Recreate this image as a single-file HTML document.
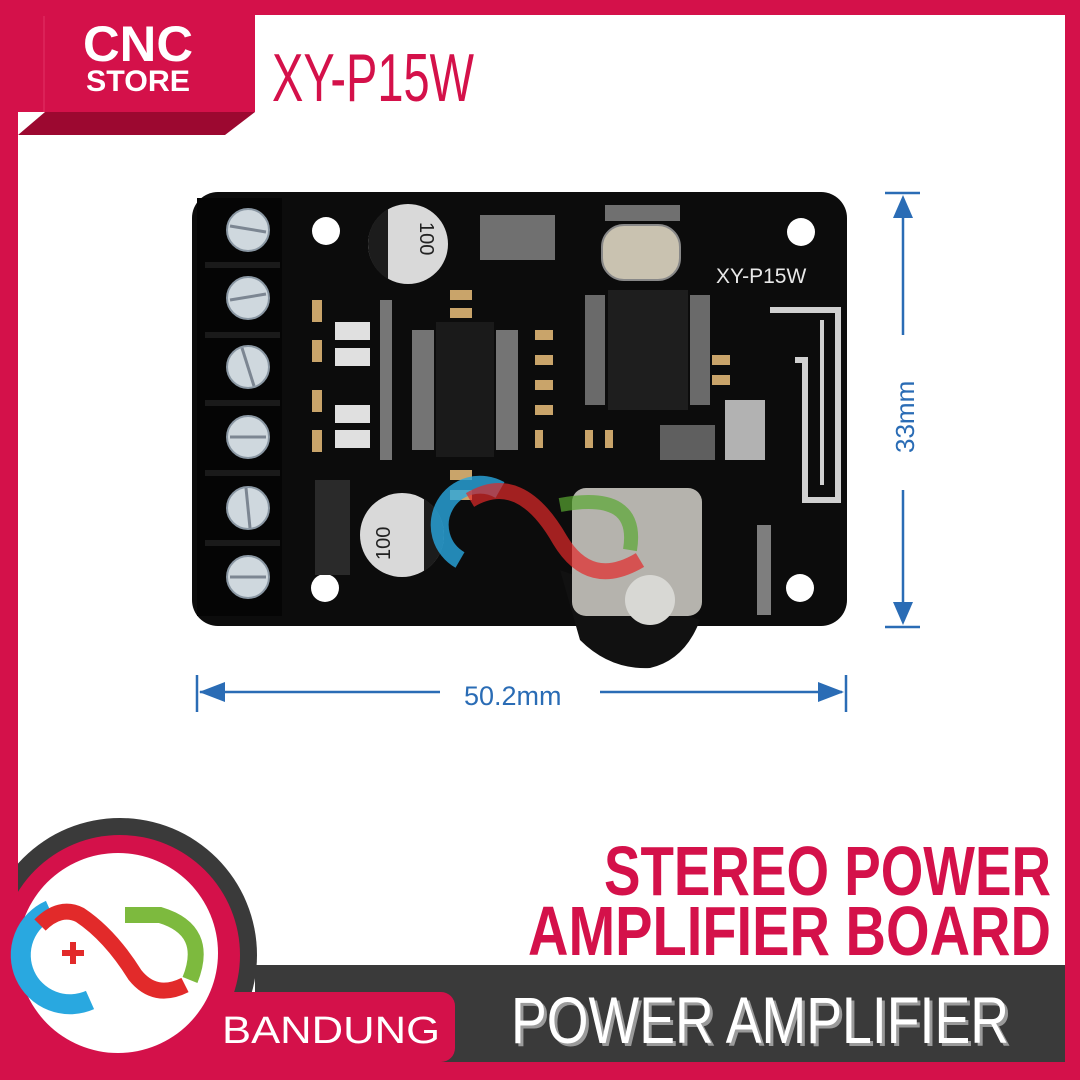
<!DOCTYPE html>
<html><head><meta charset="utf-8"><style>html,body{margin:0;padding:0;background:#fff}svg{display:block}</style></head>
<body>
<svg width="1080" height="1080" viewBox="0 0 1080 1080" xmlns="http://www.w3.org/2000/svg" font-family="Liberation Sans, sans-serif">
<rect x="0" y="0" width="1080" height="1080" fill="#d4114a"/>
<rect x="18" y="15" width="1047" height="1047" fill="#ffffff"/>
<rect x="0" y="0" width="255" height="112" fill="#d4114a"/>
<polygon points="45,112 255,112 225,135 18,135" fill="#9c0830"/>
<rect x="0" y="0" width="18" height="1080" fill="#d4114a"/>
<line x1="44" y1="16" x2="44" y2="112" stroke="#e23366" stroke-width="1"/>
<text x="83" y="61" font-size="50" font-weight="bold" fill="#fff" textLength="110" lengthAdjust="spacingAndGlyphs">CNC</text>
<text x="86" y="91" font-size="30" font-weight="bold" fill="#fff" textLength="104" lengthAdjust="spacingAndGlyphs">STORE</text>
<text x="272" y="101" font-size="68" fill="#d4114a" textLength="202" lengthAdjust="spacingAndGlyphs">XY-P15W</text>

<rect x="192" y="192" width="655" height="434" rx="26" fill="#0c0c0c"/>
<rect x="197" y="198" width="85" height="418" fill="#050505"/>
<g fill="#1a1a1a">
<rect x="205" y="262" width="75" height="6"/><rect x="205" y="332" width="75" height="6"/><rect x="205" y="400" width="75" height="6"/><rect x="205" y="470" width="75" height="6"/><rect x="205" y="540" width="75" height="6"/>
</g>
<g fill="#cfd8de" stroke="#8a97a3" stroke-width="2">
<circle cx="248" cy="230" r="21"/><circle cx="248" cy="298" r="21"/><circle cx="248" cy="367" r="21"/><circle cx="248" cy="437" r="21"/><circle cx="248" cy="508" r="21"/><circle cx="248" cy="577" r="21"/>
</g>
<g stroke="#7c8692" stroke-width="3">
<line x1="230" y1="226" x2="266" y2="232"/><line x1="230" y1="300" x2="266" y2="294"/><line x1="242" y1="348" x2="254" y2="386"/><line x1="230" y1="437" x2="266" y2="437"/><line x1="246" y1="488" x2="250" y2="528"/><line x1="230" y1="577" x2="266" y2="577"/>
</g>
<g fill="#fff"><circle cx="326" cy="231" r="14"/><circle cx="801" cy="232" r="14"/><circle cx="325" cy="588" r="14"/><circle cx="800" cy="588" r="14"/></g>
<circle cx="408" cy="244" r="40" fill="#d9d9d9"/><path d="M368,244 a40,40 0 0 1 20,-35 l0,70 a40,40 0 0 1 -20,-35z" fill="#1c1c1c"/>
<text x="0" y="0" font-size="20" fill="#222" transform="translate(420,222) rotate(90)">100</text>
<circle cx="402" cy="535" r="42" fill="#d9d9d9"/><path d="M444,535 a42,42 0 0 1 -20,36 l0,-72 a42,42 0 0 1 20,36z" fill="#1c1c1c"/>
<text x="0" y="0" font-size="20" fill="#222" transform="translate(390,560) rotate(-90)">100</text>
<rect x="436" y="322" width="58" height="135" fill="#1a1a1a"/>
<g fill="#bbb">
<rect x="412" y="330" width="22" height="120" opacity=".6"/><rect x="496" y="330" width="22" height="120" opacity=".6"/>
</g>
<rect x="608" y="290" width="80" height="120" fill="#1e1e1e"/>
<rect x="585" y="295" width="20" height="110" fill="#aaa" opacity=".6"/><rect x="690" y="295" width="20" height="110" fill="#aaa" opacity=".6"/>
<rect x="602" y="225" width="78" height="55" rx="22" fill="#c9c2b0" stroke="#888" stroke-width="2"/>
<g fill="#c9a46a">
<rect x="312" y="300" width="10" height="22"/><rect x="312" y="340" width="10" height="22"/><rect x="312" y="390" width="10" height="22"/><rect x="312" y="430" width="10" height="22"/>
<rect x="450" y="290" width="22" height="10"/><rect x="450" y="308" width="22" height="10"/><rect x="450" y="470" width="22" height="10"/><rect x="450" y="490" width="22" height="10"/>
<rect x="535" y="330" width="18" height="10"/><rect x="535" y="355" width="18" height="10"/><rect x="535" y="380" width="18" height="10"/><rect x="535" y="405" width="18" height="10"/>
<rect x="535" y="430" width="8" height="18"/><rect x="585" y="430" width="8" height="18"/><rect x="605" y="430" width="8" height="18"/>
<rect x="712" y="355" width="18" height="10"/><rect x="712" y="375" width="18" height="10"/>
</g>
<g fill="#e0e0e0"><rect x="335" y="322" width="35" height="18"/><rect x="335" y="348" width="35" height="18"/><rect x="335" y="405" width="35" height="18"/><rect x="335" y="430" width="35" height="18"/>
<rect x="380" y="300" width="12" height="160" opacity=".5"/></g>
<g fill="#ddd" opacity=".8"><rect x="725" y="400" width="40" height="60"/><rect x="660" y="425" width="55" height="35" opacity=".5"/><rect x="480" y="215" width="75" height="45" opacity=".6"/><rect x="605" y="205" width="75" height="16" opacity=".6"/></g>
<rect x="315" y="480" width="35" height="95" fill="#2a2a2a"/>
<path d="M770,310 H838 V500 H805 V360 H795" fill="none" stroke="#d0d0d0" stroke-width="6"/>
<path d="M822,320 V485" stroke="#d0d0d0" stroke-width="4"/>
<text x="716" y="283" font-size="21" fill="#e8e8e8">XY-P15W</text>
<path d="M560,570 L580,640 Q610,670 650,668 Q685,660 700,620 Z" fill="#111"/>
<rect x="572" y="488" width="130" height="128" rx="14" fill="#b5b3ad"/>
<circle cx="650" cy="600" r="25" fill="#d8d8d4"/>
<rect x="757" y="525" width="14" height="90" fill="#ccc" opacity=".6"/>
<path d="M460,560 a40,40 0 0 1 40,-70" fill="none" stroke="#29a8e0" stroke-width="18" opacity=".8"/>
<path d="M470,500 Q520,470 560,540 Q590,590 640,560" fill="none" stroke="#e22a2a" stroke-width="16" opacity=".7"/>
<path d="M560,505 Q640,490 630,550" fill="none" stroke="#5aa832" stroke-width="14" opacity=".7"/>

<g stroke="#2a6cb5" stroke-width="2.5" fill="#2a6cb5">
<line x1="885" y1="193" x2="920" y2="193"/><line x1="885" y1="627" x2="920" y2="627"/>
<line x1="903" y1="200" x2="903" y2="335"/><line x1="903" y1="490" x2="903" y2="620"/>
<polygon points="903,195 893,218 913,218" stroke="none"/><polygon points="903,625 893,602 913,602" stroke="none"/>
<line x1="197" y1="675" x2="197" y2="712"/><line x1="846" y1="675" x2="846" y2="712"/>
<line x1="200" y1="692" x2="440" y2="692"/><line x1="600" y1="692" x2="842" y2="692"/>
<polygon points="199,692 225,682 225,702" stroke="none"/><polygon points="844,692 818,682 818,702" stroke="none"/>
</g>
<text x="0" y="0" font-size="26" fill="#2a6cb5" transform="translate(914,453) rotate(-90)">33mm</text>
<text x="464" y="705" font-size="27" fill="#2a6cb5">50.2mm</text>

<circle cx="120" cy="955" r="137" fill="#3a3a3a"/>
<rect x="255" y="965" width="810" height="97" fill="#3a3a3a"/>
<circle cx="120" cy="955" r="120" fill="#d4114a"/>
<rect x="0" y="992" width="455" height="70" rx="14" fill="#d4114a"/>
<rect x="0" y="1000" width="30" height="80" fill="#d4114a"/>
<rect x="0" y="1062" width="1080" height="18" fill="#d4114a"/>
<rect x="1065" y="0" width="15" height="1080" fill="#d4114a"/>
<circle cx="118" cy="953" r="100" fill="#fff"/>
<rect x="0" y="800" width="18" height="280" fill="#d4114a"/>
<path d="M50,910 a30,30 0 0 0 40,90" fill="none" stroke="#29a8e0" stroke-width="20"/>
<path d="M40,925 Q60,905 80,915 Q110,935 135,975 Q155,1000 185,985" fill="none" stroke="#e22a2a" stroke-width="16"/>
<path d="M125,915 L160,915 Q210,930 190,980" fill="none" stroke="#7dba3e" stroke-width="16"/>
<rect x="62" y="950" width="22" height="6" fill="#e22a2a"/><rect x="70" y="942" width="6" height="22" fill="#e22a2a"/>
<text x="222" y="1043" font-size="38" fill="#fff" textLength="218" lengthAdjust="spacingAndGlyphs">BANDUNG</text>
<text x="514" y="1046" font-size="66" fill="#9a9a9a" textLength="498" lengthAdjust="spacingAndGlyphs">POWER AMPLIFIER</text>
<text x="511" y="1043" font-size="66" fill="#fff" textLength="498" lengthAdjust="spacingAndGlyphs">POWER AMPLIFIER</text>
<text x="604" y="895" font-size="70" font-weight="bold" fill="#d4114a" textLength="447" lengthAdjust="spacingAndGlyphs">STEREO POWER</text>
<text x="528" y="955" font-size="70" font-weight="bold" fill="#d4114a" textLength="523" lengthAdjust="spacingAndGlyphs">AMPLIFIER BOARD</text>
</svg>
</body></html>
